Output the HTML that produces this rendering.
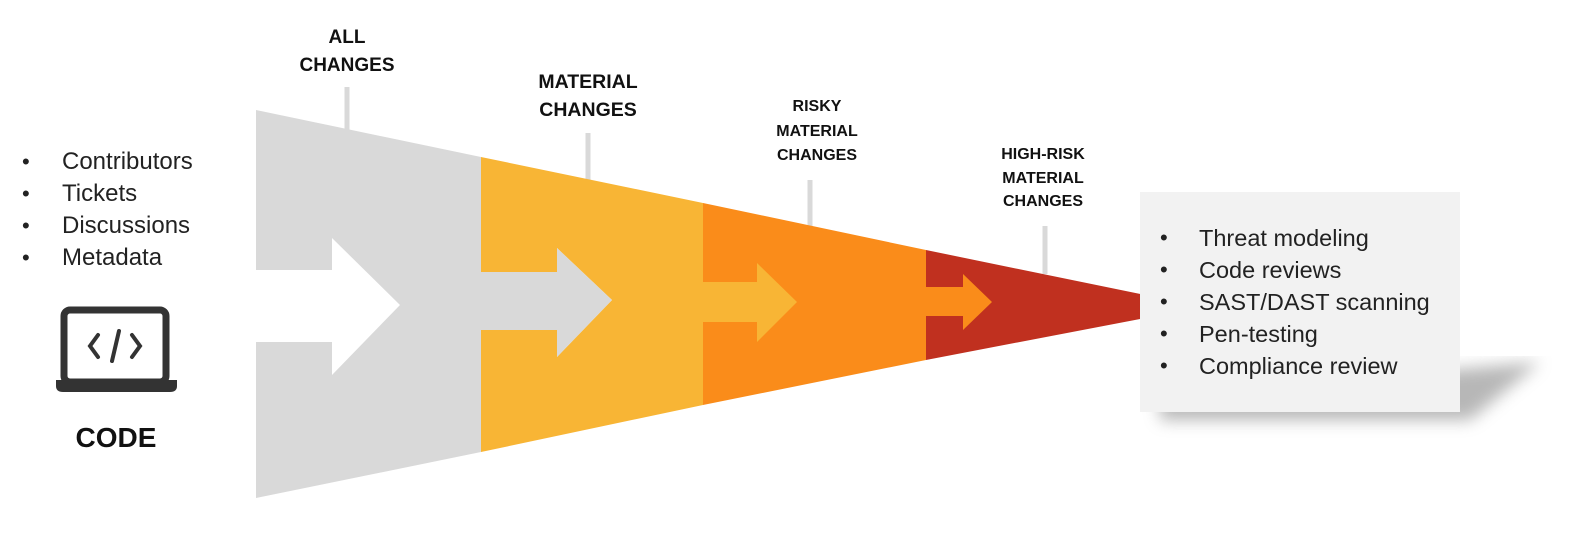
<!DOCTYPE html>
<html><head><style>
body{margin:0;width:1580px;height:549px;background:#fff;overflow:hidden;font-family:"Liberation Sans",sans-serif;position:relative}
.t{position:absolute;font-size:23px;color:#222;white-space:nowrap}
.b{position:absolute;font-weight:bold;color:#111;text-align:center;white-space:nowrap}
</style></head><body>
<svg width="1580" height="549" style="position:absolute;left:0;top:0">
<defs><filter id="sh" x="-10%" y="-10%" width="130%" height="140%"><feGaussianBlur stdDeviation="8"/></filter></defs>
<g stroke="#d9d9d9" stroke-width="5">
<line x1="347" y1="87" x2="347" y2="130"/>
<line x1="588" y1="133" x2="588" y2="180"/>
<line x1="810" y1="180" x2="810" y2="226"/>
<line x1="1045" y1="226" x2="1045" y2="274"/>
</g>
<polygon points="256,110 481,157 481,452 256,498 256,342 332,342 332,375 400,305 332,238 332,270 256,270" fill="#d9d9d9"/>
<polygon points="481,157 703,203 703,405 481,452 481,330 557,330 557,357 612,300 557,248 557,272 481,272" fill="#f8b535"/>
<polygon points="481,272 557,272 557,248 612,300 557,357 557,330 481,330" fill="#d9d9d9"/>
<polygon points="703,203 926,250 926,360 703,405" fill="#fa8c1a"/>
<polygon points="703,282 757,282 757,263 797,302 757,342 757,322 703,322" fill="#f8b535"/>
<polygon points="926,250 1145,295 1145,318 926,360" fill="#c0301f"/>
<polygon points="926,287 963,287 963,274 992,302 963,330 963,316 926,316" fill="#fa8c1a"/>
<polygon points="1160,395 1540,362 1470,420 1160,420" fill="#999" filter="url(#sh)" opacity="0.7"/>
<rect x="1140" y="192" width="320" height="220" fill="#f2f2f2"/>
<rect x="64" y="310" width="102" height="72" rx="6" fill="none" stroke="#333" stroke-width="7"/>
<path d="M56 380 H177 V386 Q177 392 170 392 H63 Q56 392 56 386 Z" fill="#333"/>
<g stroke="#333" stroke-width="4" fill="none" stroke-linecap="round">
<polyline points="98,335 90,346 98,357"/><polyline points="132,335 140,346 132,357"/><line x1="119" y1="331" x2="112" y2="361"/>
</g>
</svg>
<div class="t" style="left:22px;top:146px;line-height:32px;font-size:22px">•<br>•<br>•<br>•</div>
<div class="t" style="left:62px;top:146px;line-height:32px;font-size:24px">Contributors<br>Tickets<br>Discussions<br>Metadata</div>
<div class="b" style="left:56px;top:422px;width:120px;font-size:28px">CODE</div>
<div class="b" style="left:267px;top:24px;width:160px;font-size:19px;line-height:28px">ALL<br>CHANGES</div>
<div class="b" style="left:508px;top:68px;width:160px;font-size:19.5px;line-height:28px">MATERIAL<br>CHANGES</div>
<div class="b" style="left:737px;top:95px;width:160px;font-size:16px;line-height:24.5px">RISKY<br>MATERIAL<br>CHANGES</div>
<div class="b" style="left:963px;top:143px;width:160px;font-size:16px;line-height:23.5px">HIGH-RISK<br>MATERIAL<br>CHANGES</div>
<div class="t" style="left:1160px;top:222px;line-height:32px;font-size:22px">•<br>•<br>•<br>•<br>•</div>
<div class="t" style="left:1199px;top:222px;line-height:32px;font-size:23.5px">Threat modeling<br>Code reviews<br>SAST/DAST scanning<br>Pen-testing<br>Compliance review</div>
</body></html>
